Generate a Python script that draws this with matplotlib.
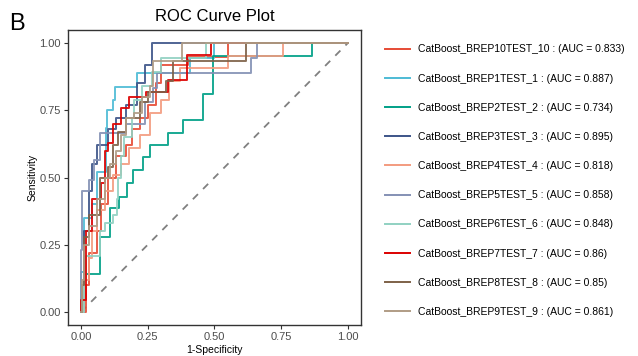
import matplotlib
matplotlib.use('Agg')
import matplotlib.pyplot as plt

plt.rcParams['font.family'] = ['Liberation Sans', 'DejaVu Sans']

# model names, AUCs and colours in legend order
names = ['CatBoost_BREP10TEST_10', 'CatBoost_BREP1TEST_1', 'CatBoost_BREP2TEST_2',
         'CatBoost_BREP3TEST_3', 'CatBoost_BREP4TEST_4', 'CatBoost_BREP5TEST_5',
         'CatBoost_BREP6TEST_6', 'CatBoost_BREP7TEST_7', 'CatBoost_BREP8TEST_8',
         'CatBoost_BREP9TEST_9']
aucs = ['0.833', '0.887', '0.734', '0.895', '0.818', '0.858', '0.848', '0.86',
        '0.85', '0.861']
colors = ['#E64B35', '#4DBBD5', '#00A087', '#3C5488', '#F39B7F', '#8491B4',
          '#91D1C2', '#DC0000', '#7E6148', '#B09C85']

# step corners: (fpr where the curve rises, tpr reached)
fpr10 = [0, 0.02, 0.03, 0.06, 0.075, 0.10, 0.13, 0.17, 0.19, 0.22, 0.25, 0.28, 0.30, 0.40, 0.55, 1]
tpr10 = [0, 0.10, 0.22, 0.30, 0.40, 0.50, 0.58, 0.62, 0.68, 0.72, 0.77, 0.85, 0.92, 0.95, 1.0, 1]
fpr1 = [0, 0.0, 0.01, 0.04, 0.06, 0.094, 0.097, 0.12, 0.127, 0.21, 0.41, 0.50, 1]
tpr1 = [0, 0.15, 0.35, 0.40, 0.52, 0.684, 0.75, 0.788, 0.836, 0.89, 0.944, 1.0, 1]
fpr2 = [0, 0.011, 0.071, 0.109, 0.142, 0.172, 0.195, 0.232, 0.258, 0.326, 0.382, 0.457, 0.494, 0.865, 1]
tpr2 = [0, 0.141, 0.279, 0.387, 0.428, 0.48, 0.528, 0.576, 0.621, 0.665, 0.714, 0.81, 0.952, 1.0, 1]
fpr3 = [0, 0.01, 0.03, 0.04, 0.06, 0.10, 0.13, 0.17, 0.21, 0.24, 0.265, 1]
tpr3 = [0, 0.30, 0.45, 0.55, 0.62, 0.68, 0.72, 0.77, 0.85, 0.92, 1.0, 1]
fpr4 = [0, 0.01, 0.03, 0.04, 0.06, 0.09, 0.12, 0.15, 0.18, 0.22, 0.26, 0.30, 0.33, 0.37, 0.55, 0.757, 1]
tpr4 = [0, 0.12, 0.20, 0.30, 0.38, 0.45, 0.51, 0.55, 0.61, 0.66, 0.74, 0.79, 0.86, 0.907, 0.952, 1.0, 1]
fpr5 = [0, 0.0, 0.005, 0.03, 0.05, 0.07, 0.17, 0.24, 0.27, 0.285, 0.637, 0.66, 1]
tpr5 = [0, 0.23, 0.45, 0.49, 0.565, 0.665, 0.70, 0.78, 0.833, 0.888, 0.944, 1.0, 1]
fpr6 = [0, 0.01, 0.02, 0.07, 0.09, 0.12, 0.135, 0.14, 0.15, 0.16, 0.19, 0.20, 0.23, 0.265, 0.30, 0.47, 1]
tpr6 = [0, 0.12, 0.21, 0.30, 0.33, 0.36, 0.42, 0.50, 0.58, 0.65, 0.72, 0.79, 0.84, 0.893, 0.944, 1.0, 1]
fpr7 = [0, 0.0, 0.019, 0.04, 0.075, 0.09, 0.10, 0.12, 0.15, 0.18, 0.245, 0.326, 0.397, 0.487, 1]
tpr7 = [0, 0.045, 0.30, 0.42, 0.48, 0.60, 0.63, 0.70, 0.76, 0.80, 0.82, 0.862, 0.955, 1.0, 1]
fpr8 = [0, 0.005, 0.01, 0.03, 0.07, 0.10, 0.12, 0.14, 0.17, 0.22, 0.25, 0.32, 0.345, 0.62, 1]
tpr8 = [0, 0.10, 0.28, 0.36, 0.50, 0.54, 0.62, 0.67, 0.72, 0.78, 0.82, 0.86, 0.933, 1.0, 1]
fpr9 = [0, 0.005, 0.01, 0.03, 0.06, 0.09, 0.11, 0.13, 0.15, 0.17, 0.20, 0.23, 0.26, 0.27, 0.378, 1]
tpr9 = [0, 0.12, 0.25, 0.32, 0.42, 0.50, 0.55, 0.60, 0.66, 0.72, 0.74, 0.80, 0.84, 0.933, 1.0, 1]

fprs = [fpr10, fpr1, fpr2, fpr3, fpr4, fpr5, fpr6, fpr7, fpr8, fpr9]
tprs = [tpr10, tpr1, tpr2, tpr3, tpr4, tpr5, tpr6, tpr7, tpr8, tpr9]


def steps(fpr, tpr):
    # expand corners into a staircase path (horizontal then vertical)
    xs, ys = [fpr[0]], [tpr[0]]
    for x, y in zip(fpr[1:], tpr[1:]):
        xs += [x, x]
        ys += [ys[-1], y]
    return xs, ys


fig = plt.figure(figsize=(6.38, 3.56), dpi=100)
ax = fig.add_axes([0.106, 0.0857, 0.460, 0.831])

ax.plot([0, 1], [0, 1], color='#808080', linestyle=(0, (4, 4)), linewidth=1.3, zorder=1)

handles = []
for i, name in enumerate(names):
    xs, ys = steps(fprs[i], tprs[i])
    line, = ax.plot(xs, ys, color=colors[i], linewidth=1.4, alpha=0.9,
                    label='{} : (AUC = {})'.format(name, aucs[i]), zorder=2)
    handles.append(line)

ax.set_xlim(-0.05, 1.05)
ax.set_ylim(-0.05, 1.05)
ticks = [0, 0.25, 0.5, 0.75, 1.0]
tickLabels = ['0.00', '0.25', '0.50', '0.75', '1.00']
ax.set_xticks(ticks)
ax.set_xticklabels(tickLabels)
ax.set_yticks(ticks)
ax.set_yticklabels(tickLabels)
ax.tick_params(length=3, width=0.8, colors='#333333', labelsize=8,
               labelcolor='#4D4D4D', pad=2)
for spine in ax.spines.values():
    spine.set_color('#333333')
    spine.set_linewidth(1.0)

ax.set_xlabel('1-Specificity', fontsize=7.5, labelpad=2)
ax.set_ylabel('Sensitivity', fontsize=7.5, labelpad=1)
ax.set_title('ROC Curve Plot', fontsize=12, pad=6)
fig.text(0.015, 0.915, 'B', fontsize=17)

leg = fig.legend(handles=handles, loc='upper left', bbox_to_anchor=(0.597, 0.887),
                 frameon=False, fontsize=7.5, handlelength=2.4, handletextpad=0.8,
                 labelspacing=1.84, borderaxespad=0)
for h in leg.legend_handles:
    h.set_alpha(1.0)
    h.set_linewidth(1.4)

plt.savefig('out.png', dpi=100)
plt.close()
